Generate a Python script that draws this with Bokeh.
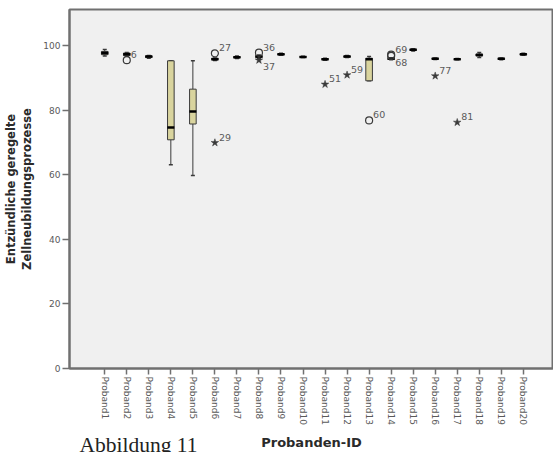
import math
from bokeh.plotting import figure
from bokeh.models import FixedTicker, Title, ColumnDataSource
from bokeh.core.properties import value
from bokeh.embed import file_html
from bokeh.resources import INLINE

# ---------------- data ----------------
probands = [f"Proband{i}" for i in range(1, 21)]
lower_whisker = [96.9, 96.8, 96.2, 63.2, 59.8, 95.5, 96.1, 96.2, 97.1, 96.4,
                 95.6, 96.4, 89.2, 95.7, 98.4, 95.8, 95.7, 96.4, 95.7, 97.1]
q1            = [97.3, 97.0, 96.4, 70.9, 75.8, 95.7, 96.3, 96.4, 97.2, 96.5,
                 95.7, 96.5, 89.2, 95.8, 98.6, 95.9, 95.8, 96.9, 95.8, 97.2]
median        = [97.8, 97.4, 96.7, 74.7, 79.7, 95.9, 96.5, 96.7, 97.4, 96.6,
                 95.9, 96.7, 95.9, 96.0, 98.8, 96.0, 95.9, 97.2, 96.0, 97.4]
q3            = [98.3, 97.8, 96.9, 95.4, 86.6, 96.2, 96.7, 97.0, 97.6, 96.7,
                 96.1, 96.9, 96.2, 96.2, 99.0, 96.2, 96.0, 97.5, 96.2, 97.6]
upper_whisker = [98.9, 98.0, 97.0, 95.4, 95.4, 96.3, 96.9, 97.2, 97.7, 96.8,
                 96.2, 97.0, 96.7, 96.3, 99.1, 96.3, 96.1, 98.0, 96.3, 97.7]

outlier_proband = ["Proband2", "Proband6", "Proband8", "Proband13", "Proband14", "Proband14"]
outlier_value = [95.6, 97.7, 97.9, 76.9, 97.3, 96.9]
outlier_case = ["6", "27", "36", "60", "69", "68"]

extreme_proband = ["Proband6", "Proband8", "Proband11", "Proband12", "Proband16", "Proband17"]
extreme_value = [70.0, 95.6, 88.1, 91.0, 90.7, 76.3]
extreme_case = ["29", "37", "51", "59", "77", "81"]

y_ticks = [0, 20, 40, 60, 80, 100]

# label placement (style): cases whose label sits below the marker
labels_below = {"37", "68"}

# ---------------- figure ----------------
pos = {name: i + 1 for i, name in enumerate(probands)}
xs = [pos[n] for n in probands]

p = figure(width=553, height=452, output_backend="svg", toolbar_location=None,
           x_range=(-0.60, 21.37), y_range=(0, 111.3),
           min_border_left=68, min_border_right=0, min_border_top=9, min_border_bottom=83)

p.background_fill_color = "#f0f0f0"
p.border_fill_color = "white"
p.outline_line_color = "#707070"
p.outline_line_width = 2
p.grid.visible = False

GRAY = "#5a5a5a"
for ax in (p.xaxis[0], p.yaxis[0]):
    ax.axis_line_color = "#707070"
    ax.axis_line_width = 2
    ax.major_tick_line_color = "#707070"
    ax.major_tick_line_width = 1.5
    ax.minor_tick_line_color = None
    ax.major_tick_in = 0
    ax.major_label_text_font = "DejaVu Sans"
    ax.major_label_text_font_size = "9px"
    ax.major_label_text_color = GRAY
    ax.axis_label_text_font = "DejaVu Sans"
    ax.axis_label_text_font_style = "bold"
    ax.axis_label_text_color = "#2a2a2a"

p.yaxis.ticker = FixedTicker(ticks=y_ticks)
p.yaxis.major_tick_out = 7
p.yaxis.major_label_standoff = 2
p.yaxis.axis_label = "Entzündliche geregelte\nZellneubildungsprozesse"
p.yaxis.axis_label_text_font_size = "11.5px"
p.yaxis.axis_label_standoff = 6

p.xaxis.ticker = FixedTicker(ticks=xs)
p.xaxis.major_label_overrides = {pos[n]: n for n in probands}
p.xaxis.major_label_orientation = -math.pi / 2
p.xaxis.major_tick_out = 6
p.xaxis.major_label_standoff = 2
p.xaxis.axis_label = "Probanden-ID"
p.xaxis.axis_label_text_font_size = "13px"
p.xaxis.axis_label_standoff = 7

# ---------------- boxes ----------------
src = ColumnDataSource(dict(x=xs, lw=lower_whisker, q1=q1, med=median, q3=q3, uw=upper_whisker))
WH = "#3a3a3a"
p.segment(x0="x", y0="lw", x1="x", y1="q1", source=src, line_color=WH, line_width=1)
p.segment(x0="x", y0="q3", x1="x", y1="uw", source=src, line_color=WH, line_width=1)
p.scatter(x="x", y="lw", source=src, marker="dash", size=4, line_color=WH, line_width=1.5)
p.scatter(x="x", y="uw", source=src, marker="dash", size=4, line_color=WH, line_width=1.5)
p.vbar(x="x", width=0.3, bottom="q1", top="q3", source=src,
       fill_color="#d9d49e", line_color="#3a3a3a", line_width=1)
p.scatter(x="x", y="med", source=src, marker="dash", size=7, line_color="black", line_width=2.5)

# ---------------- outliers / extremes ----------------
ox = [pos[n] for n in outlier_proband]
ex = [pos[n] for n in extreme_proband]
p.scatter(ox, outlier_value, marker="circle", size=7, fill_color=None,
          line_color="#3a3a3a", line_width=1.2)
p.scatter(ex, extreme_value, marker="star", size=8, fill_color="#3a3a3a",
          line_color="#3a3a3a", line_width=0.5)

lab_x = ox + ex
lab_y = outlier_value + extreme_value
lab_t = outlier_case + extreme_case
up = [i for i, t in enumerate(lab_t) if t not in labels_below]
dn = [i for i, t in enumerate(lab_t) if t in labels_below]
for idx, base, yoff in ((up, "bottom", -2), (dn, "top", 3)):
    p.text([lab_x[i] for i in idx], [lab_y[i] for i in idx], text=[lab_t[i] for i in idx],
           text_font=value("DejaVu Sans"), text_font_size="9.5px", text_color=GRAY,
           text_align="left", text_baseline=base, x_offset=4, y_offset=yoff)

# figure caption below the plot
cap = Title(text="Abbildung 11", align="left", vertical_align="top", offset=10, standoff=-40,
            text_font="Liberation Serif", text_font_size="21.5px",
            text_font_style="normal", text_color="#222222")
p.add_layout(cap, "below")

open("out.html", "w").write(file_html(p, INLINE))
